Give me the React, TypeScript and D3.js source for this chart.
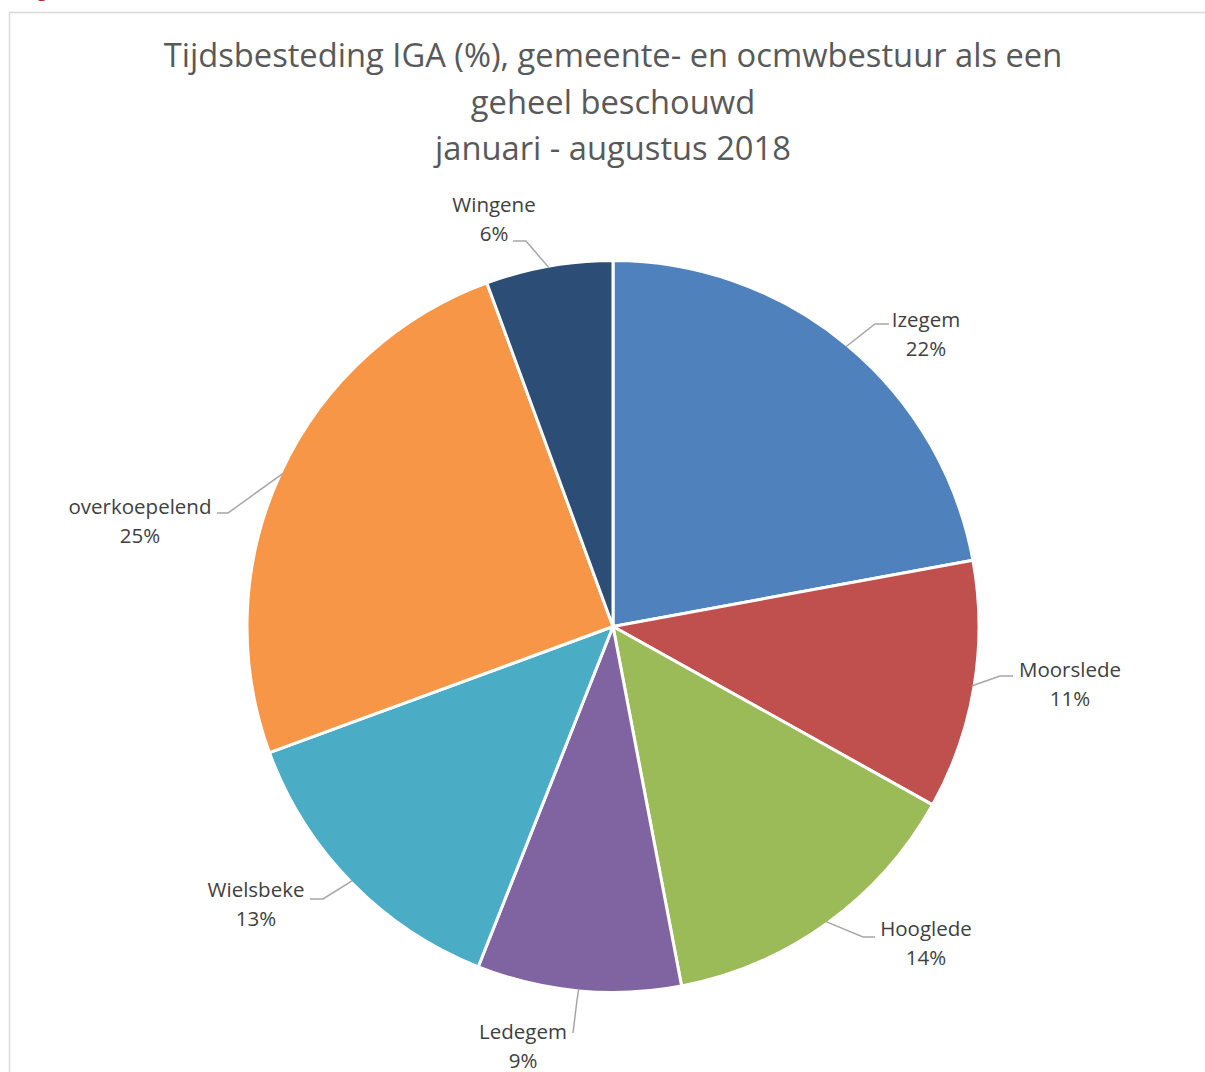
import React from "react";
import * as d3 from "d3";

const categories = ["Izegem", "Moorslede", "Hooglede", "Ledegem", "Wielsbeke", "overkoepelend", "Wingene"];
const values = [22.1, 11.0, 13.9, 9.0, 13.4, 25.0, 5.6];
const colors = ["#4f81bd", "#c0504d", "#9bbb59", "#8064a2", "#4bacc6", "#f79646", "#2c4d75"];
const titleLines = [
  "Tijdsbesteding IGA (%), gemeente- en ocmwbestuur als een",
  "geheel beschouwd",
  "januari - augustus 2018",
];

// label layout: text centre x, first baseline y, leader elbow, leader end near the text
const labelLayout = [
  { x: 926, y: 327, elbow: [875, 324], end: [889, 324] },
  { x: 1070, y: 677, elbow: [1000, 676], end: [1013, 676] },
  { x: 926, y: 936, elbow: [863, 937], end: [875, 937] },
  { x: 523, y: 1039, elbow: [577, 1000], end: [573, 1033] },
  { x: 256, y: 897, elbow: [323, 899], end: [310, 899] },
  { x: 140, y: 514, elbow: [228, 513], end: [217, 513] },
  { x: 494, y: 212, elbow: [526, 241], end: [513, 241] },
];

const W = 1205;
const H = 1072;
const cx = 613;
const cy = 626.5;
const R = 366;

export default function App() {
  const pie = d3.pie<number>().sort(null).value((d) => d)(values);
  const arc = d3.arc<d3.PieArcDatum<number>>().innerRadius(0).outerRadius(R);
  const total = d3.sum(values);
  const font = "'Open Sans', sans-serif";

  return (
    <svg
      width={W}
      height={H}
      style={{ position: "absolute", left: 0, top: 0, background: "#fff" }}
    >
      <rect x={0} y={0} width={W} height={H} fill="#fff" />
      <text x={37} y={-3} fontSize={18} fontWeight="bold" fill="#9b2d30" fontFamily={font}>g</text>
      <rect x={9.5} y={12.5} width={W + 20} height={H + 20} fill="none" stroke="#d9d9d9" strokeWidth={1.5} />
      <g fontFamily={font} fill="#595959" fontSize={32.7} textAnchor="middle">
        {titleLines.map((t, i) => (
          <text key={i} x={613} y={67 + i * 46.5}>{t}</text>
        ))}
      </g>
      <g transform={`translate(${cx},${cy})`}>
        {pie.map((d, i) => (
          <path key={i} d={arc(d) || ""} fill={colors[i]} stroke="#fff" strokeWidth={3} strokeLinejoin="round" />
        ))}
      </g>
      <g fontFamily={font} fontSize={20.5} fill="#404040" textAnchor="middle">
        {pie.map((d, i) => {
          const mid = (d.startAngle + d.endAngle) / 2;
          const ax = cx + Math.sin(mid) * (R - 2);
          const ay = cy - Math.cos(mid) * (R - 2);
          const L = labelLayout[i];
          const pct = Math.round((values[i] / total) * 100);
          return (
            <g key={i}>
              <polyline
                points={`${ax},${ay} ${L.elbow[0]},${L.elbow[1]} ${L.end[0]},${L.end[1]}`}
                fill="none"
                stroke="#a6a6a6"
                strokeWidth={1.5}
              />
              <text x={L.x} y={L.y}>{categories[i]}</text>
              <text x={L.x} y={L.y + 28.5}>{pct}%</text>
            </g>
          );
        })}
      </g>
    </svg>
  );
}
